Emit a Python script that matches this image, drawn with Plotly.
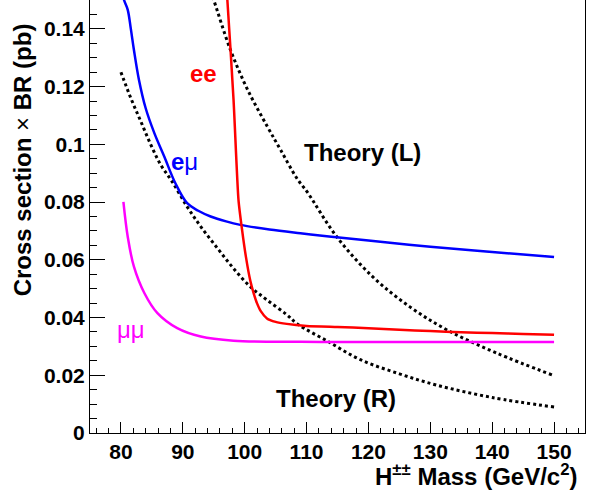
import plotly.graph_objects as go

# ---- data ----
ee_mass = [96.9, 97.2, 98.2, 99.0, 99.6, 100.2, 100.9, 101.5, 102.0, 102.6, 103.6, 105.0,
           106.8, 110.0, 115.0, 120.0, 125.0, 130.0, 135.0, 140.0, 145.0, 150.0]
ee_xsec = [0.158, 0.150, 0.1154, 0.0807, 0.0700, 0.0610, 0.0528, 0.0480, 0.0449, 0.0422, 0.0397, 0.0385,
           0.0378, 0.0371, 0.0367, 0.0363, 0.0358, 0.0353, 0.0349, 0.0346, 0.0343, 0.0340]

emu_mass = [80.0, 80.5, 81.1, 81.6, 82.1, 82.9, 84.0, 85.4, 87.0, 88.8, 90.7, 92.5, 94.5,
            97.0, 99.3, 104.0, 109.0, 114.0, 120.0, 130.0, 140.0, 150.0]
emu_xsec = [0.155, 0.150, 0.1466, 0.1400, 0.1327, 0.1225, 0.1125, 0.1039, 0.0958, 0.0865, 0.0796, 0.0770, 0.0750,
            0.0733, 0.0721, 0.0705, 0.0692, 0.0680, 0.0667, 0.0645, 0.0627, 0.0610]

mumu_mass = [80.4, 81.1, 82.1, 83.8, 85.9, 89.1, 92.9, 98.2, 109.0, 120.0, 135.0, 150.0]
mumu_xsec = [0.0801, 0.0680, 0.0576, 0.0484, 0.0415, 0.0363, 0.0334, 0.0320, 0.0316, 0.0315, 0.0315, 0.0315]

thL_mass = [94.5, 95.0, 97.7, 100.5, 103.7, 105.8, 108.5, 110.1, 114.9, 120.7, 126.7, 132.7, 140.7, 149.7]
thL_xsec = [0.153, 0.150, 0.1327, 0.1188, 0.1060, 0.0981, 0.0880, 0.0835, 0.0679, 0.0541, 0.0437, 0.0357, 0.0277, 0.0201]

thR_mass = [80.0, 81.6, 83.2, 84.8, 86.4, 88.3, 90.7, 92.9, 95.6, 98.2, 100.9, 103.6, 106.8, 108.5,
            113.3, 118.8, 125.0, 131.0, 140.0, 150.0]
thR_xsec = [0.125, 0.116, 0.108, 0.100, 0.093, 0.0870, 0.0784, 0.0715, 0.0640, 0.0570, 0.0507, 0.0461, 0.0410, 0.0378,
            0.0319, 0.0253, 0.0205, 0.0166, 0.0123, 0.0090]

x_tickvals = [80, 90, 100, 110, 120, 130, 140, 150]
y_tickvals = [0, 0.02, 0.04, 0.06, 0.08, 0.10, 0.12, 0.14]
y_ticktext = ["0", "0.02", "0.04", "0.06", "0.08", "0.1", "0.12", "0.14"]

FONT = "Liberation Sans, Arial, Helvetica, sans-serif"

fig = go.Figure()
fig.add_trace(go.Scatter(x=thL_mass, y=thL_xsec, mode="lines", line_shape="spline",
                         line=dict(color="black", width=3, dash="3px,3px", smoothing=1), name="Theory (L)"))
fig.add_trace(go.Scatter(x=thR_mass, y=thR_xsec, mode="lines", line_shape="spline",
                         line=dict(color="black", width=3, dash="3px,3px", smoothing=1), name="Theory (R)"))
fig.add_trace(go.Scatter(x=mumu_mass, y=mumu_xsec, mode="lines", line_shape="spline",
                         line=dict(color="#ff00ff", width=2.5, smoothing=1), name="μμ"))
fig.add_trace(go.Scatter(x=emu_mass, y=emu_xsec, mode="lines", line_shape="spline",
                         line=dict(color="#0000ff", width=2.5, smoothing=1), name="eμ"))
fig.add_trace(go.Scatter(x=ee_mass, y=ee_xsec, mode="lines", line_shape="spline",
                         line=dict(color="#ff0000", width=2.5, smoothing=0.6), name="ee"))

ann_font = dict(family=FONT, size=24, color="black")
annotations = [
    dict(x=93.3, y=0.1244, text="<b>ee</b>", font=dict(family=FONT, size=24, color="#ff0000")),
    dict(x=90.35, y=0.0942, text="<b>e</b>μ", font=dict(family=FONT, size=24, color="#0000ff")),
    dict(x=81.6, y=0.0360, text="μμ", font=dict(family=FONT, size=24, color="#ff00ff")),
    dict(x=118.96, y=0.0973, text="<b>Theory (L)</b>", font=ann_font),
    dict(x=114.76, y=0.0118, text="<b>Theory (R)</b>", font=ann_font),
]
for a in annotations:
    a.update(xref="x", yref="y", showarrow=False, xanchor="center", yanchor="middle")

annotations.append(dict(xref="paper", yref="paper", x=0.99, y=-0.097, xanchor="right", yanchor="middle",
                        showarrow=False, text="<b>H<sup>±±</sup> Mass (GeV/c<sup>2</sup>)</b>",
                        font=dict(family=FONT, size=24, color="black")))
annotations.append(dict(xref="paper", yref="paper", x=-0.137, y=0.95, xanchor="center", yanchor="top",
                        showarrow=False, textangle=-90,
                        text="<b>Cross section</b> × <b>BR (pb)</b>",
                        font=dict(family=FONT, size=24, color="black")))

fig.update_layout(
    width=592, height=493,
    margin=dict(l=90, r=7, t=0, b=60),
    paper_bgcolor="white", plot_bgcolor="white",
    showlegend=False,
    annotations=annotations,
    font=dict(family=FONT, color="black"),
)
fig.update_xaxes(range=[75, 155], showgrid=False, zeroline=False,
                 showline=True, linecolor="black", linewidth=1, mirror=True,
                 ticks="inside", ticklen=11, tickcolor="black", tickwidth=1,
                 tickvals=x_tickvals,
                 tickfont=dict(family=FONT, size=21, color="black", weight="bold"),
                 minor=dict(ticks="inside", ticklen=5, dtick=2, tick0=0, tickcolor="black", showgrid=False))
fig.update_yaxes(range=[0, 0.15], showgrid=False, zeroline=False,
                 showline=True, linecolor="black", linewidth=1, mirror=True,
                 ticks="inside", ticklen=15, tickcolor="black", tickwidth=1,
                 tickvals=y_tickvals, ticktext=y_ticktext,
                 tickfont=dict(family=FONT, size=21, color="black", weight="bold"),
                 minor=dict(ticks="inside", ticklen=7, dtick=0.005, tick0=0, tickcolor="black", showgrid=False))

fig.write_html("out.html", config={"displayModeBar": False},
               post_script="document.body.style.margin='0';document.body.style.overflow='hidden';")
